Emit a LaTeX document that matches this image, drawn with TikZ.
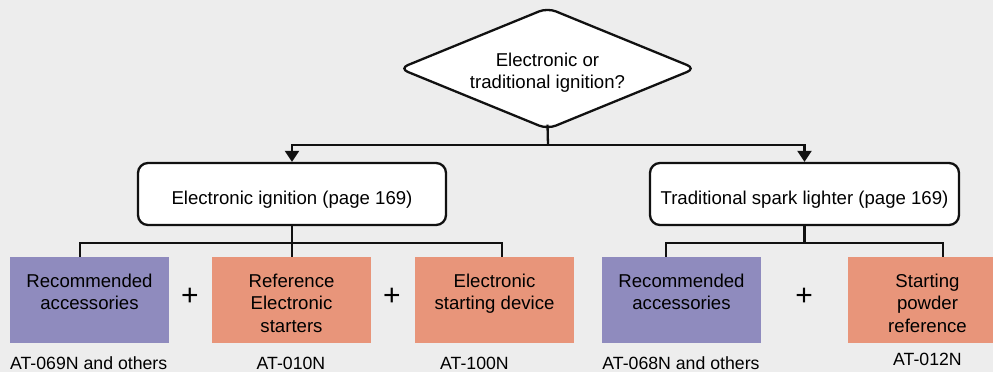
\documentclass[tikz,border=0pt]{standalone}
\usepackage{fontspec}
\setmainfont{Liberation Sans}
\usetikzlibrary{shapes.geometric,arrows.meta}
\definecolor{bgc}{HTML}{EDEDED}
\definecolor{purp}{HTML}{8F8BBE}
\definecolor{salm}{HTML}{E8957A}
\definecolor{ink}{HTML}{111111}
\tikzset{
  conn/.style={draw=ink,line width=2.3pt},
  arr/.style={-{Triangle[width=14pt,length=11pt]}},
  decision/.style={shape=diamond,draw=ink,fill=white,line width=2.3pt,rounded corners=9pt,
    aspect=2.44,minimum width=297pt,minimum height=122pt,inner sep=0pt,align=center,
    font=\fontsize{18.6}{22}\selectfont},
  mainbox/.style={draw=ink,fill=white,line width=2.3pt,rounded corners=10pt,minimum height=62pt,
    text height=24pt,text depth=4pt,inner sep=0pt,font=\fontsize{18.6}{22.7}\selectfont},
  subbox/.style={inner sep=0pt,font=\fontsize{18.6}{22.7}\selectfont},
  reflabel/.style={inner sep=0pt,anchor=base,font=\fontsize{17.7}{21}\selectfont},
  plus/.style={inner sep=0pt,font=\fontsize{30}{30}\selectfont}
}
\newcommand{\boxtext}[1]{\parbox[c][86pt][t]{159pt}{\centering\rule{0pt}{30pt}#1\par}}
\begin{document}
\begin{tikzpicture}[x=1pt,y=-1pt]
\useasboundingbox[fill=bgc] (0,0) rectangle (993,372);
\node[decision] (q) at (547.5,68.5) {\rule{0pt}{21.4pt}Electronic or\\traditional ignition?};
\node[mainbox,minimum width=308pt] (e) at (292,194) {Electronic ignition (page 169)};
\node[mainbox,minimum width=309pt] (t) at (804.5,194) {Traditional spark lighter (page 169)};
\coordinate (th) at (548,145);
\draw[conn] ([yshift=6pt]q.south) -- (th);
\draw[conn,arr] (th) -| (e.north);
\draw[conn,arr] (th) -| (t.north);

\node[subbox,fill=purp] (b1) at (89.5,300) {\boxtext{Recommended\\accessories}};
\node[subbox,fill=salm] (b2) at (291.5,300) {\boxtext{Reference\\Electronic\\starters}};
\node[subbox,fill=salm] (b3) at (494.5,300) {\boxtext{Electronic\\starting device}};
\node[subbox,fill=purp] (b4) at (681.5,300) {\boxtext{Recommended\\accessories}};
\node[subbox,fill=salm] (b5) at (927.5,300) {\boxtext{Starting\\powder\\reference}};

\coordinate (lh) at (292,243);
\coordinate (rh) at (804.5,243);
\draw[conn] (e.south) -- (e.south |- b2.north);
\draw[conn] ([xshift=-9.5pt]b1.north) |- (lh) -| ([xshift=7.5pt]b3.north);
\draw[conn] (t.south) -- (rh);
\draw[conn] ([xshift=-15.5pt]b4.north) |- (rh) -| ([xshift=15.5pt]b5.north);

\node[plus] (p1) at (190,297) {+};
\node[plus] (p2) at (392,297) {+};
\node[plus] (p3) at (804,297) {+};

\node[reflabel] (l1) at (88.7,369) {AT-069N and others};
\node[reflabel] (l2) at (291,369) {AT-010N};
\node[reflabel] (l3) at (474.5,369) {AT-100N};
\node[reflabel] (l4) at (681,369) {AT-068N and others};
\node[reflabel] (l5) at (927.5,365) {AT-012N};
\end{tikzpicture}
\end{document}
